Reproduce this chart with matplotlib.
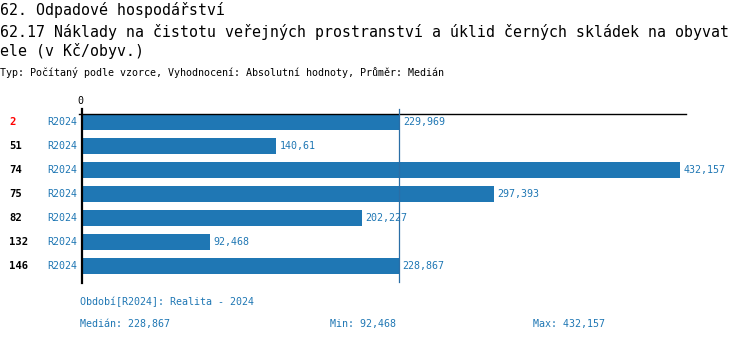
import matplotlib
matplotlib.use("Agg")
import matplotlib.pyplot as plt

# Data
ids = ["2", "51", "74", "75", "82", "132", "146"]
periods = ["R2024"] * 7
values = [229969, 140610, 432157, 297393, 202227, 92468, 228867]
value_labels = ["229,969", "140,61", "432,157", "297,393", "202,227", "92,468", "228,867"]
highlight_id = "2"
median_value = 228867
median_label = "228,867"
min_label = "92,468"
max_label = "432,157"

title1 = "62. Odpadové hospodářství"
title2 = "62.17 Náklady na čistotu veřejných prostranství a úklid černých skládek na obyvat"
title3 = "ele (v Kč/obyv.)"
subtitle = "Typ: Počítaný podle vzorce, Vyhodnocení: Absolutní hodnoty, Průměr: Medián"
period_note = "Období[R2024]: Realita - 2024"

BLUE = "#1f77b4"
MONO = "DejaVu Sans Mono"

W, H = 750, 342
fig = plt.figure(figsize=(W / 100, H / 100), dpi=100)

def fx(px):
    return px / W

def fy(py):
    return 1 - py / H

ax_left, ax_right, ax_top, ax_bottom = 81.5, 686, 114, 282
ax = fig.add_axes([fx(ax_left), fy(ax_bottom), fx(ax_right - ax_left), (ax_bottom - ax_top) / H])
ax.set_xlim(0, 436150)
ax.set_ylim(len(values) - 1 + 0.667, -0.333)
for s in ax.spines.values():
    s.set_visible(False)
ax.set_xticks([])
ax.set_yticks([])

ypos = list(range(len(values)))
ax.barh(ypos, values, height=0.667, color=BLUE, zorder=2)

for y, v, lab in zip(ypos, values, value_labels):
    ax.annotate(lab, (v, y), xytext=(2.5, 0), textcoords="offset points",
                ha="left", va="center", fontsize=7.2, family=MONO, color=BLUE)

# top and left axis lines
ax.plot([-0.004, 1], [1, 1], transform=ax.transAxes, color="black", lw=1.0, clip_on=False, zorder=3)
ax.plot([0, 0], [1 + 5 / 168, -0.005], transform=ax.transAxes, color="black", lw=1.6, clip_on=False, zorder=3)
# median line
ax.plot([median_value, median_value], [-0.333 - 5 / 24, len(values) - 1 + 0.667],
        color="#2a6ea6", lw=0.9, clip_on=False, zorder=3)

fig.text(fx(80), fy(101), "0", ha="center", va="center", fontsize=7.2, family=MONO)

# row labels
for y, i_d, per in zip(ypos, ids, periods):
    py = 122 + 24 * y
    fig.text(fx(9), fy(py), i_d, ha="left", va="center", fontsize=7.6, family=MONO,
             weight="bold", color="red" if i_d == highlight_id else "black")
    fig.text(fx(47), fy(py), per, ha="left", va="center", fontsize=7.2, family=MONO, color=BLUE)

# header
fig.text(0, fy(10), title1, ha="left", va="center", fontsize=10.7, family=MONO)
fig.text(0, fy(32), title2, ha="left", va="center", fontsize=10.7, family=MONO)
fig.text(0, fy(51), title3, ha="left", va="center", fontsize=10.7, family=MONO)
fig.text(0, fy(73), subtitle, ha="left", va="center", fontsize=7.2, family=MONO)

# footer
fig.text(fx(80), fy(302), period_note, ha="left", va="center", fontsize=7.2, family=MONO, color=BLUE)
fig.text(fx(80), fy(324), "Medián: " + median_label, ha="left", va="center", fontsize=7.2, family=MONO, color=BLUE)
fig.text(fx(330), fy(324), "Min: " + min_label, ha="left", va="center", fontsize=7.2, family=MONO, color=BLUE)
fig.text(fx(533), fy(324), "Max: " + max_label, ha="left", va="center", fontsize=7.2, family=MONO, color=BLUE)

fig.savefig("out.png", dpi=100)
